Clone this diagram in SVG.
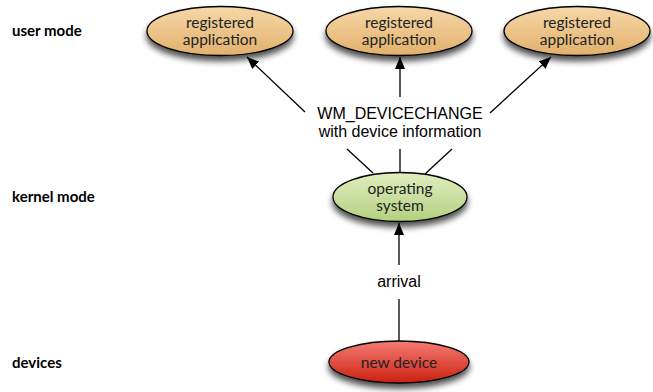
<svg xmlns="http://www.w3.org/2000/svg" width="653" height="392" viewBox="0 0 653 392">
<defs>
<linearGradient id="gApp" x1="0" y1="0" x2="0" y2="1">
<stop offset="0" stop-color="#f6d8a8"/><stop offset="1" stop-color="#e2b06c"/>
</linearGradient>
<linearGradient id="gOs" x1="0" y1="0" x2="0" y2="1">
<stop offset="0" stop-color="#e0eec0"/><stop offset="1" stop-color="#b4d080"/>
</linearGradient>
<linearGradient id="gDev" x1="0" y1="0" x2="0" y2="1">
<stop offset="0" stop-color="#f47c74"/><stop offset="1" stop-color="#cc2010"/>
</linearGradient>
<filter id="sh" x="-20%" y="-30%" width="140%" height="170%">
<feGaussianBlur in="SourceAlpha" stdDeviation="3"/>
<feOffset dx="0" dy="5" result="b"/>
<feComponentTransfer><feFuncA type="linear" slope="0.7"/></feComponentTransfer>
<feMerge><feMergeNode/><feMergeNode in="SourceGraphic"/></feMerge>
</filter>
<marker id="ah" viewBox="0 0 12 10" refX="12" refY="5" markerWidth="12" markerHeight="10" markerUnits="userSpaceOnUse" orient="auto">
<path d="M0,0 L12,5 L0,10 z" fill="#000"/>
</marker>
</defs>
<style>
.node{stroke:#000;stroke-width:1.3}
.nt{font-family:Lato,"Open Sans",sans-serif;font-size:15.5px;fill:#222;text-anchor:middle}
.lbl{font-family:Lato,"Open Sans",sans-serif;font-size:15px;font-weight:bold;fill:#000}
.et{font-family:"Liberation Sans",Arial,sans-serif;font-size:16px;fill:#000;text-anchor:middle}
.ln{stroke:#000;stroke-width:1.3;fill:none}
</style>
<rect width="653" height="392" fill="#fff"/>
<g id="labels">
<text class="lbl" x="12" y="36">user mode</text>
<text class="lbl" x="12" y="202">kernel mode</text>
<text class="lbl" x="12" y="368">devices</text>
</g>
<g id="connectors">
<line class="ln" x1="373" y1="173" x2="347" y2="149"/>
<line class="ln" x1="305" y1="112" x2="247" y2="57" marker-end="url(#ah)"/>
<line class="ln" x1="400" y1="172" x2="400" y2="149"/>
<line class="ln" x1="400" y1="97" x2="400" y2="57" marker-end="url(#ah)"/>
<line class="ln" x1="425" y1="174" x2="452" y2="149"/>
<line class="ln" x1="490" y1="113" x2="551" y2="57" marker-end="url(#ah)"/>
<line class="ln" x1="399" y1="341" x2="399" y2="299"/>
<line class="ln" x1="399" y1="265" x2="399" y2="223" marker-end="url(#ah)"/>
<text class="et" x="400" y="119">WM_DEVICECHANGE</text>
<text class="et" x="400" y="137">with device information</text>
<text class="et" x="399" y="287">arrival</text>
</g>
<g id="app1">
<ellipse class="node" cx="220" cy="31" rx="73" ry="24.5" fill="url(#gApp)" filter="url(#sh)"/>
<text class="nt" x="220" y="28">registered</text>
<text class="nt" x="220" y="45">application</text>
</g>
<g id="app2">
<ellipse class="node" cx="399" cy="31" rx="73" ry="24.5" fill="url(#gApp)" filter="url(#sh)"/>
<text class="nt" x="399" y="28">registered</text>
<text class="nt" x="399" y="45">application</text>
</g>
<g id="app3">
<ellipse class="node" cx="577" cy="31" rx="73" ry="24.5" fill="url(#gApp)" filter="url(#sh)"/>
<text class="nt" x="577" y="28">registered</text>
<text class="nt" x="577" y="45">application</text>
</g>
<g id="os">
<ellipse class="node" cx="400" cy="197" rx="67" ry="24.5" fill="url(#gOs)" filter="url(#sh)"/>
<text class="nt" x="400" y="194">operating</text>
<text class="nt" x="400" y="211">system</text>
</g>
<g id="device">
<ellipse class="node" cx="399" cy="362" rx="70" ry="21" fill="url(#gDev)" filter="url(#sh)"/>
<text class="nt" x="399" y="368">new device</text>
</g>
</svg>
